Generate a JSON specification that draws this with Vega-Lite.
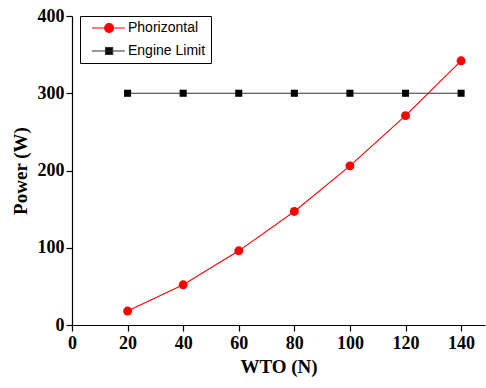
{
  "$schema": "https://vega.github.io/schema/vega-lite/v6.json",
  "width": 413,
  "height": 309,
  "autosize": "none",
  "padding": {"left": 72, "top": 16, "right": 1, "bottom": 63},
  "background": "white",
  "data": {
    "values": [
      {"series": "Phorizontal", "w": 20, "p": 18},
      {"series": "Phorizontal", "w": 40, "p": 52},
      {"series": "Phorizontal", "w": 60, "p": 96},
      {"series": "Phorizontal", "w": 80, "p": 147},
      {"series": "Phorizontal", "w": 100, "p": 206},
      {"series": "Phorizontal", "w": 120, "p": 271},
      {"series": "Phorizontal", "w": 140, "p": 342},
      {"series": "Engine Limit", "w": 20, "p": 300},
      {"series": "Engine Limit", "w": 40, "p": 300},
      {"series": "Engine Limit", "w": 60, "p": 300},
      {"series": "Engine Limit", "w": 80, "p": 300},
      {"series": "Engine Limit", "w": 100, "p": 300},
      {"series": "Engine Limit", "w": 120, "p": 300},
      {"series": "Engine Limit", "w": 140, "p": 300}
    ]
  },
  "layer": [
    {
      "mark": {"type": "line", "strokeWidth": 1.1},
      "encoding": {
        "x": {
          "field": "w", "type": "quantitative",
          "scale": {"domain": [0, 148.6], "nice": false, "zero": true},
          "axis": {
            "values": [0, 10, 20, 30, 40, 50, 60, 70, 80, 90, 100, 110, 120, 130, 140],
            "labelExpr": "datum.value % 20 === 0 ? datum.label : ''",
            "tickSize": {"condition": {"test": "datum.value % 20 === 0", "value": 6}, "value": 3},
            "title": "WTO (N)",
            "titlePadding": 5,
            "labelPadding": 3,
            "labelFlush": false
          }
        },
        "y": {
          "field": "p", "type": "quantitative",
          "scale": {"domain": [0, 400], "nice": false},
          "axis": {
            "values": [0, 50, 100, 150, 200, 250, 300, 350, 400],
            "labelExpr": "datum.value % 100 === 0 ? datum.label : ''",
            "tickSize": {"condition": {"test": "datum.value % 100 === 0", "value": 6}, "value": 3},
            "title": "Power (W)",
            "titlePadding": 7,
            "labelPadding": 2,
            "labelFlush": false
          }
        },
        "color": {
          "field": "series", "type": "nominal",
          "scale": {"domain": ["Phorizontal", "Engine Limit"], "range": ["#ff0000", "#333333"]},
          "legend": {
            "orient": "none", "legendX": 8, "legendY": 0,
            "title": null,
            "strokeColor": "black",
            "fillColor": "white",
            "padding": 5,
            "labelFont": "Liberation Sans",
            "labelFontSize": 14,
            "labelColor": "black",
            "symbolSize": 81,
            "symbolStrokeWidth": 1.1,
            "rowPadding": 9,
            "labelOffset": 29,
            "encode": {
              "symbols": {
                "update": {
                  "shape": {"signal": "datum.value === 'Phorizontal' ? 'M0,0H7.3M2.8,0A1,1 0 1,0 4.8,0A1,1 0 1,0 2.8,0Z' : 'M0,0H7.3M3,-0.75H4.6V0.75H3Z'"},
                  "fill": {"signal": "datum.value === 'Phorizontal' ? '#ff0000' : '#000000'"},
                  "stroke": {"signal": "datum.value === 'Phorizontal' ? '#ff0000' : '#333333'"},
                  "opacity": {"value": 1}
                }
              }
            }
          }
        }
      }
    },
    {
      "mark": {"type": "point", "filled": true, "opacity": 1},
      "encoding": {
        "x": {"field": "w", "type": "quantitative"},
        "y": {"field": "p", "type": "quantitative"},
        "color": {
          "field": "series", "type": "nominal",
          "scale": {"domain": ["Phorizontal", "Engine Limit"], "range": ["#ff0000", "#000000"]},
          "legend": null
        },
        "shape": {
          "field": "series", "type": "nominal",
          "scale": {"domain": ["Phorizontal", "Engine Limit"], "range": ["circle", "square"]},
          "legend": null
        },
        "size": {
          "field": "series", "type": "nominal",
          "scale": {"domain": ["Phorizontal", "Engine Limit"], "range": [80, 50]},
          "legend": null
        }
      }
    }
  ],
  "resolve": {"scale": {"color": "independent"}},
  "config": {
    "view": {"stroke": null},
    "axis": {
      "grid": false,
      "domainColor": "black",
      "domainWidth": 1.2,
      "tickColor": "black",
      "tickWidth": 1.2,
      "labelFont": "Liberation Serif",
      "labelFontWeight": "bold",
      "labelFontSize": 18,
      "labelColor": "black",
      "titleFont": "Liberation Serif",
      "titleFontWeight": "bold",
      "titleFontSize": 19,
      "titleColor": "black"
    }
  }
}
